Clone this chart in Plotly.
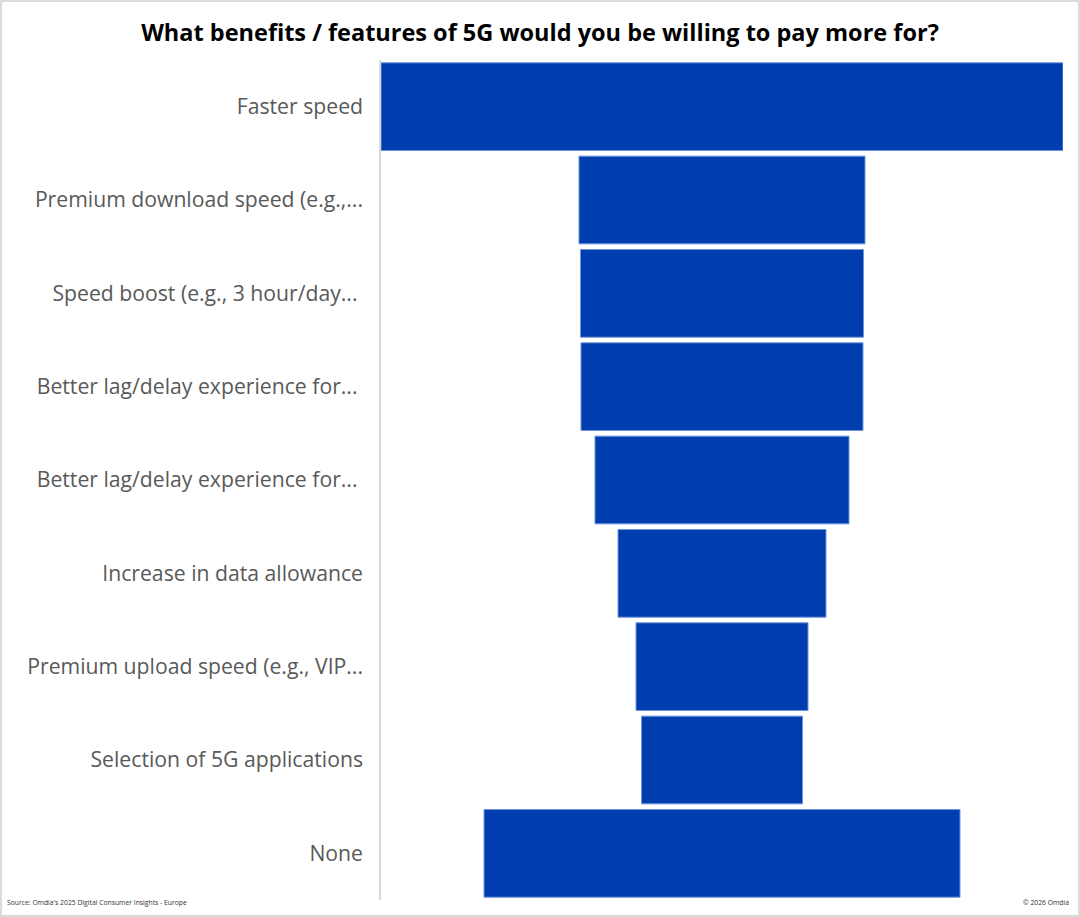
import plotly.graph_objects as go

# Данные: ответы на вопрос о платных функциях 5G (значения оценены по ширине полос)
categories = [
    "Faster speed",
    "Premium download speed (e.g.,...",
    "Speed boost (e.g., 3 hour/day... ",
    "Better lag/delay experience for... ",
    "Better lag/delay experience for...\u00a0",
    "Increase in data allowance",
    "Premium upload speed (e.g., VIP...",
    "Selection of 5G applications",
    "None",
]
values = [34.1, 14.3, 14.15, 14.1, 12.7, 10.4, 8.6, 8.05, 23.8]

W, H = 1080, 917
ML, MR, MT, MB = 381, 17, 60, 17

fig = go.Figure()
fig.add_trace(go.Funnel(
    y=categories,
    x=values,
    textinfo='none',
    hoverinfo='y+x',
    marker=dict(color='#003DAF', line=dict(color='#6F95DB', width=1)),
    connector=dict(visible=False),
))

half = max(values) / 2
pw = W - ML - MR
ph = H - MT - MB

fig.update_layout(
    width=W,
    height=H,
    margin=dict(l=ML, r=MR, t=MT, b=MB),
    paper_bgcolor='white',
    plot_bgcolor='white',
    showlegend=False,
    funnelgap=0.06,
    font=dict(family="Open Sans", size=21, color='#595959'),
    title=dict(
        text="<b>What benefits / features of 5G would you be willing to pay more for?</b>",
        font=dict(family="Open Sans", size=23.5, color='black'),
        x=0.5, xanchor='center', xref='container',
        y=1 - 33 / H, yanchor='middle',
    ),
    xaxis=dict(range=[-half, half], visible=False, fixedrange=True),
    yaxis=dict(
        showline=True, linecolor='#D9D9D9', linewidth=1.5,
        showgrid=False, ticks='', ticklabelstandoff=12,
        tickfont=dict(family="Open Sans", size=21.2, color='#595959'),
        fixedrange=True,
    ),
    shapes=[dict(
        type='rect', xref='paper', yref='paper',
        x0=-(ML - 1) / pw, x1=1 + (MR - 1) / pw,
        y0=-(MB - 1) / ph, y1=1 + (MT - 1) / ph,
        line=dict(color='#D0D0D0', width=1.5), fillcolor='rgba(0,0,0,0)',
    )],
    annotations=[
        dict(text="Source: Omdia's 2025 Digital Consumer Insights - Europe",
             xref='paper', yref='paper', x=-(ML - 5) / pw, y=-(902 - (H - MB)) / ph,
             xanchor='left', yanchor='middle', showarrow=False,
             font=dict(family="Open Sans", size=6.8, color='#333333')),
        dict(text="© 2026 Omdia",
             xref='paper', yref='paper', x=1 + (MR - 9) / pw, y=-(902 - (H - MB)) / ph,
             xanchor='right', yanchor='middle', showarrow=False,
             font=dict(family="Open Sans", size=6.8, color='#333333')),
    ],
)

# убираем отступы body, чтобы фигура совпала с окном
fig.write_html(
    "out.html",
    config={'displayModeBar': False},
    post_script="document.body.style.margin='0';document.body.style.overflow='hidden';",
)
